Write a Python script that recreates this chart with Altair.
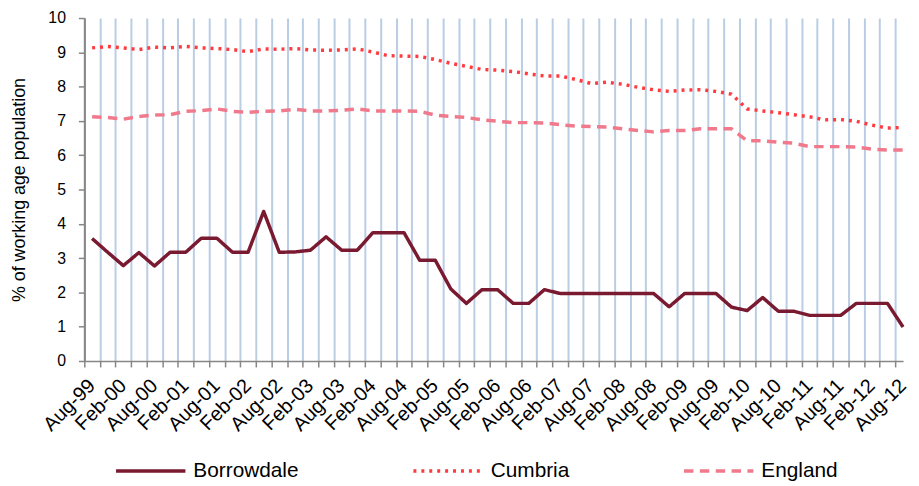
import altair as alt
import pandas as pd

periods = ["Aug-99", "Nov-99", "Feb-00", "May-00", "Aug-00", "Nov-00", "Feb-01", "May-01",
           "Aug-01", "Nov-01", "Feb-02", "May-02", "Aug-02", "Nov-02", "Feb-03", "May-03",
           "Aug-03", "Nov-03", "Feb-04", "May-04", "Aug-04", "Nov-04", "Feb-05", "May-05",
           "Aug-05", "Nov-05", "Feb-06", "May-06", "Aug-06", "Nov-06", "Feb-07", "May-07",
           "Aug-07", "Nov-07", "Feb-08", "May-08", "Aug-08", "Nov-08", "Feb-09", "May-09",
           "Aug-09", "Nov-09", "Feb-10", "May-10", "Aug-10", "Nov-10", "Feb-11", "May-11",
           "Aug-11", "Nov-11", "Feb-12", "May-12", "Aug-12"]

borrowdale = [3.57, 3.17, 2.78, 3.16, 2.77, 3.17, 3.17, 3.58, 3.58, 3.17, 3.17, 4.36, 3.17,
              3.18, 3.23, 3.62, 3.23, 3.23, 3.74, 3.74, 3.74, 2.94, 2.94, 2.10, 1.68, 2.08,
              2.08, 1.68, 1.68, 2.08, 1.97, 1.97, 1.97, 1.97, 1.97, 1.97, 1.97, 1.58, 1.97,
              1.97, 1.97, 1.57, 1.47, 1.85, 1.45, 1.45, 1.33, 1.33, 1.33, 1.68, 1.68, 1.68, 0.99]

cumbria = [9.13, 9.17, 9.13, 9.08, 9.15, 9.13, 9.17, 9.13, 9.11, 9.08, 9.02, 9.10, 9.09,
           9.11, 9.07, 9.06, 9.07, 9.10, 9.01, 8.90, 8.89, 8.88, 8.79, 8.68, 8.59, 8.50,
           8.48, 8.44, 8.37, 8.31, 8.31, 8.21, 8.09, 8.13, 8.07, 7.98, 7.91, 7.86, 7.90,
           7.91, 7.86, 7.78, 7.35, 7.29, 7.24, 7.18, 7.12, 7.03, 7.04, 6.99, 6.88, 6.79, 6.81]

england = [7.12, 7.10, 7.05, 7.13, 7.17, 7.18, 7.28, 7.30, 7.35, 7.28, 7.25, 7.28, 7.29,
           7.34, 7.29, 7.29, 7.31, 7.35, 7.29, 7.29, 7.29, 7.28, 7.17, 7.13, 7.10, 7.03,
           6.99, 6.95, 6.95, 6.94, 6.89, 6.85, 6.84, 6.82, 6.77, 6.72, 6.68, 6.72, 6.72,
           6.77, 6.77, 6.77, 6.42, 6.42, 6.38, 6.35, 6.25, 6.25, 6.25, 6.24, 6.18, 6.15, 6.15]

series_names = ["Borrowdale", "Cumbria", "England"]
series_colors = ["#7A1A30", "#FF3B3F", "#F07A8C"]
series_dashes = [[1, 0], [3, 5], [9.5, 6.5]]

y_ticks = list(range(0, 11))
label_idx = list(range(0, len(periods), 2))
tick_positions = [i - 0.5 for i in range(0, len(periods))]

FONT = "Liberation Sans"
GREY = "#868686"

rows = []
for name, vals in zip(series_names, [borrowdale, cumbria, england]):
    for i, v in enumerate(vals):
        rows.append({"idx": i, "period": periods[i], "series": name, "value": v})
df = pd.DataFrame(rows)
labels_df = pd.DataFrame({"idx": label_idx, "period": [periods[i] for i in label_idx]})

xscale = alt.Scale(domain=[-0.5, 52.0], nice=False, zero=False)
x_axis = alt.Axis(
    values=tick_positions, labels=False, title=None, grid=True,
    gridColor={"condition": {"test": "datum.value < 0", "value": GREY}, "value": "#B9CDE5"},
    gridWidth=2, tickSize=6, tickColor=GREY, tickWidth=1.5,
    domainColor=GREY, domainWidth=1.5, orient="bottom")

legend = alt.Legend(
    title=None, orient="none", legendX=30, legendY=420, direction="horizontal",
    columns=3, columnPadding=108, symbolType="stroke", symbolSize=4900,
    symbolStrokeWidth=3.5, labelFontSize=21, labelFont=FONT, labelColor="#000000",
    labelOffset=6,
)

lines = alt.Chart(df).mark_line(strokeWidth=3.5, strokeJoin="round").encode(
    x=alt.X("idx:Q", scale=xscale, axis=x_axis),
    y=alt.Y("value:Q", scale=alt.Scale(domain=[0, 10], nice=False), axis=alt.Axis(
        values=y_ticks, title="% of working age population", titleFontSize=18,
        titleFont=FONT, titleFontWeight="normal", titleColor="#000000", titlePadding=20,
        labelFontSize=16, labelFont=FONT, labelColor="#000000", labelPadding=13,
        tickSize=6, tickColor=GREY, tickWidth=1.5, domainColor=GREY, domainWidth=1.5,
        grid=False)),
    color=alt.Color("series:N", scale=alt.Scale(domain=series_names, range=series_colors),
                    legend=legend),
    strokeDash=alt.StrokeDash("series:N", scale=alt.Scale(domain=series_names, range=series_dashes),
                              legend=legend),
    order="idx:Q",
)

# category labels of the x axis, rotated as in the reference
xlabels = alt.Chart(labels_df).mark_text(
    angle=315, align="right", baseline="middle", fontSize=20, font=FONT, color="#000000",
).encode(
    x=alt.X("idx:Q", scale=xscale, axis=x_axis),
    y=alt.value(368),
    text="period:N",
)

chart = alt.layer(lines, xlabels).properties(
    width=826, height=346,
    autosize=alt.AutoSizeParams(type="none"),
    padding={"left": 77, "right": 8, "top": 8, "bottom": 124},
    background="white",
).configure_view(strokeWidth=0).configure_axis(
    labelFont=FONT, labelFontSize=16, labelColor="#000000",
    titleFont=FONT, titleColor="#000000",
).configure_legend(labelFont=FONT, labelFontSize=21)

chart.save("out.html", embed_options={"renderer": "svg", "actions": False})
